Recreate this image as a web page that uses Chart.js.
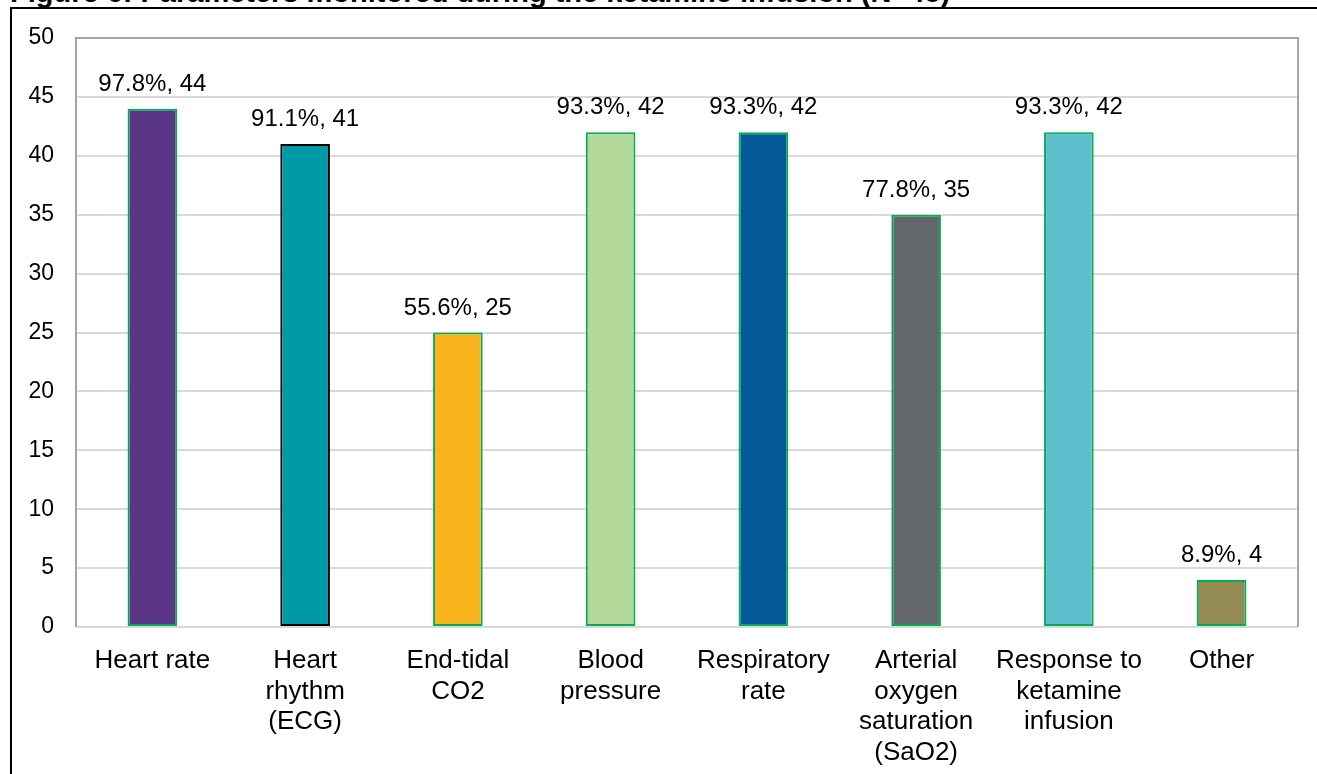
<!DOCTYPE html>
<html>
<head>
<meta charset="utf-8">
<script src="https://cdn.jsdelivr.net/npm/chart.js@4/dist/chart.umd.min.js"></script>
<style>
  html, body { margin: 0; padding: 0; background: #fff; overflow: hidden; }
  #wrap { position: relative; width: 1317px; height: 774px; overflow: hidden; }
  #frame { position: absolute; left: 10px; top: 7px; width: 1320px; height: 780px;
           border-top: 2px solid #000; border-left: 2px solid #000; box-sizing: border-box; }
  #title { position: absolute; left: 10px; top: -22px; white-space: nowrap;
           font: bold 29px "Liberation Sans", Arial, sans-serif; line-height: 29px; color: #000; }
  #chart { position: absolute; left: 0; top: 0; }
</style>
</head>
<body>
<div id="wrap">
  <div id="frame"></div>
  <div id="title">Figure 6: Parameters monitored during the ketamine infusion (N=45)</div>
  <canvas id="chart" width="1317" height="774"></canvas>
</div>
<script>
// Monitored parameters and how many respondents reported each one
const categories = [
  "Heart rate",
  ["Heart", "rhythm", "(ECG)"],
  ["End-tidal", "CO2"],
  ["Blood", "pressure"],
  ["Respiratory", "rate"],
  ["Arterial", "oxygen", "saturation", "(SaO2)"],
  ["Response to", "ketamine", "infusion"],
  "Other"
];
const counts = [44, 41, 25, 42, 42, 35, 42, 4];
const percents = [97.8, 91.1, 55.6, 93.3, 93.3, 77.8, 93.3, 8.9];
const yTicks = [0, 5, 10, 15, 20, 25, 30, 35, 40, 45, 50];

const barColors = ["#5B3587", "#0099A6", "#FAB51E", "#B5D89B", "#035A96", "#63666A", "#5EBFCC", "#948A54"];
const edgeColors = ["#00B050", "#000000", "#00B050", "#00B050", "#00B050", "#00B050", "#00B050", "#00B050"];

const FONT = '"Liberation Sans", Arial, sans-serif';

// Gray frame around the plotting area
const plotFrame = {
  id: 'plotFrame',
  beforeDatasetsDraw(chart) {
    const { ctx, chartArea: a } = chart;
    ctx.save();
    ctx.strokeStyle = '#a6a6a6';
    ctx.lineWidth = 2;
    ctx.beginPath();
    ctx.moveTo(a.left, a.bottom);
    ctx.lineTo(a.left, a.top);
    ctx.lineTo(a.right, a.top);
    ctx.lineTo(a.right, a.bottom);
    ctx.stroke();
    ctx.restore();
  }
};

// "percent%, count" label above each bar
const valueLabels = {
  id: 'valueLabels',
  afterDatasetsDraw(chart) {
    const { ctx } = chart;
    const meta = chart.getDatasetMeta(0);
    ctx.save();
    ctx.font = '24px ' + FONT;
    ctx.fillStyle = '#000';
    ctx.textAlign = 'center';
    ctx.textBaseline = 'alphabetic';
    meta.data.forEach((bar, i) => {
      ctx.fillText(percents[i] + '%, ' + counts[i], bar.x, bar.y - 18);
    });
    ctx.restore();
  }
};

new Chart(document.getElementById('chart'), {
  type: 'bar',
  data: {
    labels: categories,
    datasets: [{
      data: counts,
      backgroundColor: barColors,
      borderColor: edgeColors,
      borderWidth: 2,
      borderSkipped: false,
      barPercentage: 0.325,
      categoryPercentage: 1.0
    }]
  },
  options: {
    responsive: false,
    animation: false,
    devicePixelRatio: 1,
    layout: { padding: { left: 12, right: 19, top: 38, bottom: 0 } },
    plugins: {
      legend: { display: false },
      tooltip: { enabled: false },
      title: { display: false }
    },
    scales: {
      x: {
        grid: { display: false, drawTicks: false },
        border: { display: false },
        ticks: {
          color: '#000',
          font: { family: FONT, size: 26, lineHeight: 1.17 },
          padding: 19,
          maxRotation: 0,
          autoSkip: false
        },
        afterFit(s) { s.height = 147; }
      },
      y: {
        min: 0,
        max: 50,
        afterBuildTicks(s) { s.ticks = yTicks.map(v => ({ value: v })); },
        grid: { color: '#d9d9d9', lineWidth: 2, drawTicks: false },
        border: { display: false },
        ticks: {
          color: '#000',
          font: { family: FONT, size: 23 },
          padding: 22
        },
        afterFit(s) { s.width = 64; }
      }
    }
  },
  plugins: [plotFrame, valueLabels]
});
</script>
</body>
</html>
